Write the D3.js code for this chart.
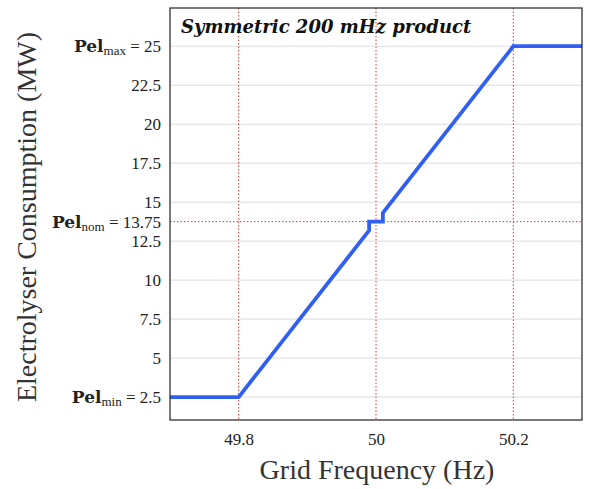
<!DOCTYPE html>
<html><head><meta charset="utf-8">
<script src="https://cdn.jsdelivr.net/npm/d3@7"></script>
<style>body{margin:0;background:#fff}svg{display:block}</style>
</head><body>
<svg id="c" width="590" height="489"></svg>
<script>
const freq = [49.7, 49.8, 49.99, 49.99, 50.01, 50.01, 50.2, 50.3];
const power = [2.5, 2.5, 13.19, 13.75, 13.75, 14.31, 25, 25];
const xTicks = [49.8, 50, 50.2];
const xTickLabels = ["49.8", "50", "50.2"];
const yTicks = [2.5, 5, 7.5, 10, 12.5, 13.75, 15, 17.5, 20, 22.5, 25];
const yGrid = [2.5, 5, 7.5, 10, 12.5, 15, 17.5, 20, 22.5, 25];
const namedTicks = {2.5: ["min", "2.5"], 13.75: ["nom", "13.75"], 25: ["max", "25"]};
const refX = [49.8, 50, 50.2];
const refY = [13.75];

const svg = d3.select("#c");
const L = 170, R = 582, T = 8, B = 420;
const x = d3.scaleLinear().domain([49.7, 50.3]).range([L, R]);
const y = d3.scaleLinear().domain([1.03, 27.45]).range([B, T]);
const font = "Liberation Serif";

// grid
svg.append("g").selectAll("line").data(yGrid).join("line")
  .attr("x1", L).attr("x2", R).attr("y1", d => y(d)).attr("y2", d => y(d))
  .attr("stroke", "#dcdcdc").attr("stroke-width", 1);

// reference lines
svg.append("g").selectAll("line").data(refX).join("line")
  .attr("x1", d => x(d)).attr("x2", d => x(d)).attr("y1", T).attr("y2", B)
  .attr("stroke", "#e8322e").attr("stroke-width", 1).attr("stroke-dasharray", "1.5,2");
svg.append("g").selectAll("line").data(refY).join("line")
  .attr("x1", L).attr("x2", R).attr("y1", d => y(d)).attr("y2", d => y(d))
  .attr("stroke", "#e8322e").attr("stroke-width", 1).attr("stroke-dasharray", "1.5,2");

// line
const line = d3.line().x((d, i) => x(freq[i])).y((d, i) => y(power[i]));
svg.append("path").datum(power).attr("d", line)
  .attr("fill", "none").attr("stroke", "#2f5ff5").attr("stroke-width", 3.8)
  .attr("stroke-linejoin", "miter");

// x axis
const xAxis = d3.axisBottom(x).tickValues(xTicks).tickSize(0).tickPadding(13)
  .tickFormat((d, i) => xTickLabels[i]);
const gx = svg.append("g").attr("transform", `translate(0,${B})`).call(xAxis)
  .attr("font-family", font);
gx.select(".domain").remove();
gx.selectAll("text").attr("font-size", 17).attr("fill", "#222");

// y axis
const yAxis = d3.axisLeft(y).tickValues(yTicks).tickSize(0).tickPadding(9).tickFormat("");
const gy = svg.append("g").attr("transform", `translate(${L},0)`).call(yAxis)
  .attr("font-family", font);
gy.select(".domain").remove();
gy.selectAll(".tick text").each(function(d) {
  const t = d3.select(this).attr("font-size", 17).attr("fill", "#222").attr("dy", "0.34em");
  if (namedTicks[d]) {
    t.append("tspan").attr("font-weight", "bold").attr("font-family", "DejaVu Serif")
      .attr("font-size", 17).text("Pel");
    t.append("tspan").attr("font-size", 13).attr("dy", 3).text(namedTicks[d][0]);
    t.append("tspan").attr("dy", -3).text("\u00a0= " + namedTicks[d][1]);
  } else {
    t.text(d3.format("")(d));
  }
});

// frame
svg.append("rect").attr("x", L).attr("y", T).attr("width", R - L).attr("height", B - T)
  .attr("fill", "none").attr("stroke", "#222").attr("stroke-width", 1.2);

// title
svg.append("text").attr("x", 181).attr("y", 33).attr("font-family", "DejaVu Serif")
  .attr("font-size", 18).attr("font-weight", "bold").attr("font-style", "italic")
  .attr("fill", "#111").text("Symmetric 200 mHz product");

// axis labels
svg.append("text").attr("x", (L + R) / 2 + 1).attr("y", 479).attr("text-anchor", "middle")
  .attr("font-family", font).attr("font-size", 28).attr("fill", "#333").text("Grid Frequency (Hz)");
svg.append("text").attr("transform", `translate(36,${(T + B) / 2 + 3}) rotate(-90)`)
  .attr("text-anchor", "middle").attr("font-family", font).attr("font-size", 28)
  .attr("fill", "#333").text("Electrolyser Consumption (MW)");
</script>
</body></html>
